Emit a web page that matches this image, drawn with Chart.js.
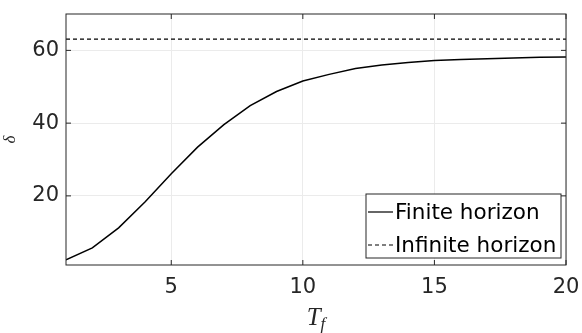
<!DOCTYPE html>
<html>
<head>
<meta charset="utf-8">
<script src="https://cdn.jsdelivr.net/npm/chart.js"></script>
<style>
  html, body { margin:0; padding:0; background:#fff; }
  #wrap { width:582px; height:333px; }
</style>
</head>
<body>
<div id="wrap"><canvas id="c" width="582" height="333"></canvas></div>
<script>
// ── DATA ────────────────────────────────────────
const tf       = [1, 2, 3, 4, 5, 6, 7, 8, 9, 10, 11, 12, 13, 14, 15, 16, 17, 18, 19, 20];
const finite   = [2.4, 5.7, 11.2, 18.3, 26.1, 33.4, 39.6, 44.8, 48.7, 51.6, 53.4, 55.0, 56.0, 56.7, 57.2, 57.5, 57.7, 57.9, 58.1, 58.2];
const infTf    = [1, 20];
const infinite = [63.1, 63.1];
const xTicks   = [5, 10, 15, 20];
const yTicks   = [20, 40, 60];
const labels   = ['Finite horizon', 'Infinite horizon'];

const AX = '#262626';
const TICK_FONT = { family: 'DejaVu Sans', size: 21 };

const noPad = s => { s.paddingLeft = 0; s.paddingRight = 0; s.paddingTop = 0; s.paddingBottom = 0; };

// box, inside ticks, axis titles, legend
const framePlugin = {
  id: 'frame',
  afterDraw(chart) {
    const ctx = chart.ctx, a = chart.chartArea;
    const xs = chart.scales.x, ys = chart.scales.y;
    ctx.save();
    ctx.strokeStyle = AX;
    ctx.lineWidth = 1;
    ctx.strokeRect(a.left, a.top, a.right - a.left, a.bottom - a.top);
    ctx.beginPath();
    xTicks.forEach(v => {
      const px = xs.getPixelForValue(v);
      ctx.moveTo(px, a.bottom); ctx.lineTo(px, a.bottom - 5);
      ctx.moveTo(px, a.top);    ctx.lineTo(px, a.top + 5);
    });
    yTicks.forEach(v => {
      const py = ys.getPixelForValue(v);
      ctx.moveTo(a.left, py);  ctx.lineTo(a.left + 5, py);
      ctx.moveTo(a.right, py); ctx.lineTo(a.right - 5, py);
    });
    ctx.stroke();

    // y title
    ctx.fillStyle = AX;
    ctx.save();
    ctx.translate(11, (a.top + a.bottom) / 2);
    ctx.rotate(-Math.PI / 2);
    ctx.font = 'italic 17px "Liberation Serif"';
    ctx.textAlign = 'center';
    ctx.textBaseline = 'middle';
    ctx.fillText('δ', 0, 0);
    ctx.restore();

    // x title T_f
    const cx = (a.left + a.right) / 2;
    ctx.textAlign = 'left';
    ctx.textBaseline = 'alphabetic';
    ctx.font = 'italic 25px "Liberation Serif"';
    const tw = ctx.measureText('T').width;
    ctx.font = 'italic 17px "Liberation Serif"';
    const fw = ctx.measureText('f').width;
    const x0 = cx - (tw + fw) / 2;
    ctx.font = 'italic 25px "Liberation Serif"';
    ctx.fillText('T', x0, 325);
    ctx.font = 'italic 17px "Liberation Serif"';
    ctx.fillText('f', x0 + tw, 329);

    // legend
    const lx = 366, ly = 194, lw = 195, lh = 64;
    ctx.fillStyle = '#fff';
    ctx.fillRect(lx, ly, lw, lh);
    ctx.strokeStyle = AX;
    ctx.strokeRect(lx, ly, lw, lh);
    ctx.font = '21.5px "DejaVu Sans"';
    ctx.textBaseline = 'middle';
    chart.data.datasets.forEach((ds, i) => {
      const y = ly + 18 + i * 33;
      ctx.strokeStyle = '#000';
      ctx.lineWidth = 1.2;
      ctx.setLineDash(ds.borderDash || []);
      ctx.beginPath();
      ctx.moveTo(lx + 2, y); ctx.lineTo(lx + 27, y);
      ctx.stroke();
      ctx.setLineDash([]);
      ctx.fillStyle = '#000';
      ctx.fillText(ds.label, lx + 29, y + 1);
    });
    ctx.restore();
  }
};

new Chart(document.getElementById('c'), {
  type: 'line',
  data: {
    datasets: [
      {
        label: labels[0],
        data: tf.map((x, i) => ({ x: x, y: finite[i] })),
        borderColor: '#000', borderWidth: 1.5,
        pointRadius: 0, tension: 0, fill: false
      },
      {
        label: labels[1],
        data: infTf.map((x, i) => ({ x: x, y: infinite[i] })),
        borderColor: '#000', borderWidth: 1.3, borderDash: [4, 3],
        pointRadius: 0, tension: 0, fill: false
      }
    ]
  },
  options: {
    responsive: false,
    animation: false,
    layout: { padding: { left: 0, right: 16, top: 14, bottom: 0 } },
    plugins: { legend: { display: false }, tooltip: { enabled: false } },
    scales: {
      x: {
        type: 'linear', min: 1, max: 20,
        afterBuildTicks: s => { s.ticks = xTicks.map(v => ({ value: v })); },
        afterFit: s => { s.height = 68; noPad(s); },
        grid: { color: '#ebebeb', drawTicks: false },
        border: { display: false },
        ticks: { font: TICK_FONT, color: AX, padding: 10, maxRotation: 0 }
      },
      y: {
        type: 'linear', min: 1, max: 70,
        afterBuildTicks: s => { s.ticks = yTicks.map(v => ({ value: v })); },
        afterFit: s => { s.width = 66; noPad(s); },
        grid: { color: '#ebebeb', drawTicks: false },
        border: { display: false },
        ticks: { font: TICK_FONT, color: AX, padding: 7 }
      }
    }
  },
  plugins: [framePlugin]
});
</script>
</body>
</html>
